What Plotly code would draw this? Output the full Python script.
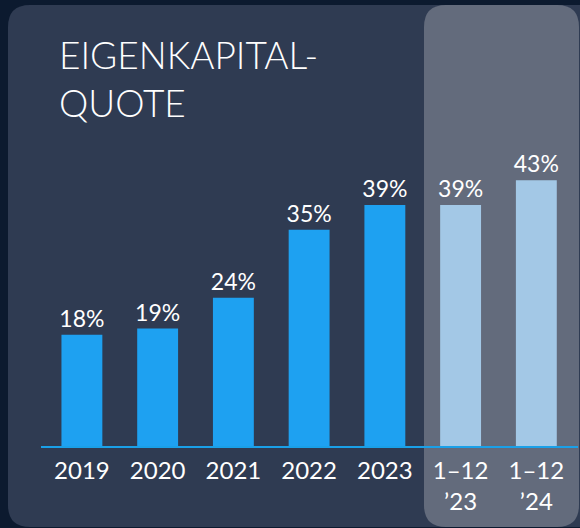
import plotly.graph_objects as go

categories = ["2019", "2020", "2021", "2022", "2023", "1–12<br>’23", "1–12<br>’24"]
values = [18, 19, 24, 35, 39, 39, 43]
labels = ["18%", "19%", "24%", "35%", "39%", "39%", "43%"]
bar_colors = ["#1ea1f1"] * 5 + ["#a3c8e6"] * 2

W, H = 580, 528
ML, MR, MT, MB = 41, 2, 100, 82
PW, PH = W - ML - MR, H - MT - MB


def px2x(px):
    return (px - ML) / PW


def px2y(py):
    return (H - MB - py) / PH


def rounded_rect(x0, y0, x1, y1, r):
    pts = [
        f"M {px2x(x0 + r)} {px2y(y0)}",
        f"L {px2x(x1 - r)} {px2y(y0)}",
        f"Q {px2x(x1)} {px2y(y0)} {px2x(x1)} {px2y(y0 + r)}",
        f"L {px2x(x1)} {px2y(y1 - r)}",
        f"Q {px2x(x1)} {px2y(y1)} {px2x(x1 - r)} {px2y(y1)}",
        f"L {px2x(x0 + r)} {px2y(y1)}",
        f"Q {px2x(x0)} {px2y(y1)} {px2x(x0)} {px2y(y1 - r)}",
        f"L {px2x(x0)} {px2y(y0 + r)}",
        f"Q {px2x(x0)} {px2y(y0)} {px2x(x0 + r)} {px2y(y0)}",
        "Z",
    ]
    return " ".join(pts)


fig = go.Figure()
fig.add_trace(go.Bar(
    x=categories, y=values, text=labels, textposition="outside",
    constraintext="none",
    marker=dict(color=bar_colors, line=dict(width=0)),
    textfont=dict(color="white", size=23, family="Lato"),
    cliponaxis=False, hoverinfo="skip",
))

shapes = [
    dict(type="path", xref="paper", yref="paper", layer="below",
         path=rounded_rect(8, 5, 600, 527, 22), fillcolor="#2f3b52", line=dict(width=0)),
    dict(type="path", xref="paper", yref="paper", layer="below",
         path=rounded_rect(424, 5, 579, 527, 22), fillcolor="#636b7c", line=dict(width=0)),
]

fig.update_layout(
    width=W, height=H,
    margin=dict(l=ML, r=MR, t=MT, b=MB),
    paper_bgcolor="#0c1a2f",
    plot_bgcolor="rgba(0,0,0,0)",
    showlegend=False,
    bargap=0.46,
    shapes=shapes,
    font=dict(family="Lato", color="white"),
    xaxis=dict(
        range=[-0.54, 6.55], showgrid=False, zeroline=False,
        showline=True, linecolor="#1aa0e8", linewidth=2,
        ticks="", tickfont=dict(size=24, color="white", family="Lato"),
        ticklabelstandoff=2,
        fixedrange=True,
    ),
    yaxis=dict(range=[0, 56], visible=False, fixedrange=True),
    annotations=[dict(
        text="EIGENKAPITAL-<br>QUOTE", xref="paper", yref="paper",
        x=px2x(57), y=px2y(30), xanchor="left", yanchor="top",
        showarrow=False, align="left",
        font=dict(size=37, color="white", family="Lato", weight=300),
    )],
)

fig.write_html(
    "out.html",
    config={"displayModeBar": False},
    post_script="document.body.style.margin='0';document.body.style.background='#0c1a2f';",
)
